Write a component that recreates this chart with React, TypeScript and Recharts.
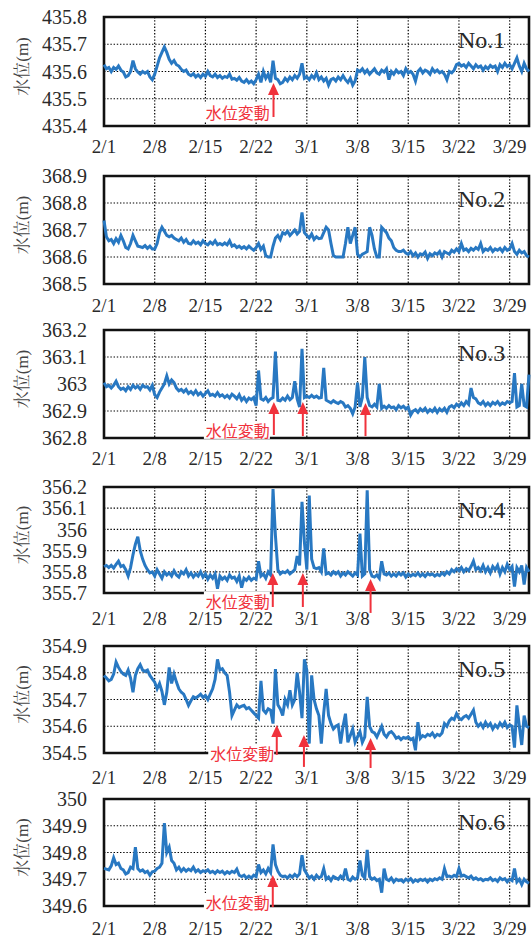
import React from 'react';
import {
  LineChart,
  Line,
  XAxis,
  YAxis,
  CartesianGrid,
  ReferenceArea,
  ReferenceLine,
  ReferenceDot,
} from 'recharts';

// ---------- axes ----------
const DAY_TICKS = [0, 7, 14, 21, 28, 35, 42, 49, 56];
const DAY_LABELS = ['2/1', '2/8', '2/15', '2/22', '3/1', '3/8', '3/15', '3/22', '3/29'];
const X_MAX = 58.67;
const SAMPLES_PER_DAY = 3;

const Y_TICKS_1 = [435.4, 435.5, 435.6, 435.7, 435.8];
const Y_TICKS_2 = [368.5, 368.6, 368.7, 368.8, 368.9];
const Y_TICKS_3 = [362.8, 362.9, 363.0, 363.1, 363.2];
const Y_TICKS_4 = [355.7, 355.8, 355.9, 356.0, 356.1, 356.2];
const Y_TICKS_5 = [354.5, 354.6, 354.7, 354.8, 354.9];
const Y_TICKS_6 = [349.6, 349.7, 349.8, 349.9, 350.0];

// ---------- water level series (3 samples per day, from 2/1) ----------
const NO1 = [
  435.625, 435.610, 435.615, 435.600, 435.615, 435.608, 435.620, 435.605, 435.598,
  435.580, 435.585, 435.600, 435.640, 435.610, 435.598, 435.590, 435.600, 435.594,
  435.600, 435.580, 435.570, 435.590, 435.620, 435.650, 435.670, 435.690, 435.670,
  435.645, 435.630, 435.640, 435.625, 435.620, 435.608, 435.600, 435.605, 435.590,
  435.585, 435.592, 435.580, 435.588, 435.578, 435.590, 435.582, 435.600, 435.585,
  435.580, 435.590, 435.578, 435.585, 435.575, 435.582, 435.578, 435.590, 435.572,
  435.575, 435.568, 435.578, 435.565, 435.560, 435.570, 435.558, 435.565, 435.555,
  435.570, 435.590, 435.560, 435.600, 435.575, 435.590, 435.560, 435.640, 435.575,
  435.570, 435.555, 435.560, 435.575, 435.565, 435.580, 435.570, 435.585, 435.575,
  435.590, 435.630, 435.575, 435.580, 435.570, 435.585, 435.575, 435.595, 435.570,
  435.580, 435.565, 435.575, 435.550, 435.570, 435.575, 435.565, 435.580, 435.570,
  435.585, 435.570, 435.560, 435.575, 435.550, 435.565, 435.605, 435.600, 435.610,
  435.595, 435.605, 435.590, 435.600, 435.610, 435.595, 435.590, 435.605, 435.598,
  435.610, 435.570, 435.600, 435.590, 435.605, 435.595, 435.600, 435.585, 435.610,
  435.595, 435.600, 435.590, 435.565, 435.600, 435.610, 435.595, 435.605, 435.600,
  435.590, 435.610, 435.598, 435.605, 435.595, 435.600, 435.590, 435.570, 435.600,
  435.595, 435.605, 435.625, 435.630, 435.620, 435.625, 435.615, 435.630, 435.620,
  435.610, 435.625, 435.615, 435.620, 435.605, 435.618, 435.610, 435.622, 435.615,
  435.620, 435.600, 435.625, 435.615, 435.630, 435.618, 435.625, 435.610, 435.630,
  435.650, 435.620, 435.600, 435.630, 435.610, 435.600,
];

const NO2 = [
  368.735, 368.675, 368.660, 368.665, 368.650, 368.668, 368.655, 368.680, 368.660,
  368.635, 368.630, 368.650, 368.680, 368.660, 368.640, 368.638, 368.635, 368.642,
  368.632, 368.640, 368.630, 368.630, 368.650, 368.690, 368.710, 368.695, 368.680,
  368.675, 368.680, 368.670, 368.665, 368.660, 368.670, 368.655, 368.665, 368.650,
  368.648, 368.660, 368.650, 368.655, 368.645, 368.660, 368.650, 368.645, 368.655,
  368.648, 368.660, 368.645, 368.650, 368.645, 368.652, 368.645, 368.660, 368.640,
  368.645, 368.635, 368.640, 368.632, 368.638, 368.630, 368.640, 368.632, 368.625,
  368.635, 368.650, 368.628, 368.640, 368.605, 368.600, 368.600, 368.640, 368.670,
  368.680, 368.665, 368.690, 368.685, 368.695, 368.680, 368.690, 368.700, 368.685,
  368.695, 368.765, 368.690, 368.680, 368.670, 368.685, 368.665, 368.675, 368.668,
  368.670, 368.690, 368.710, 368.700, 368.650, 368.605, 368.600, 368.600, 368.600,
  368.600, 368.650, 368.710, 368.650, 368.680, 368.710, 368.610, 368.600, 368.610,
  368.615, 368.620, 368.710, 368.680, 368.630, 368.600, 368.600, 368.710, 368.700,
  368.690, 368.670, 368.660, 368.635, 368.625, 368.620, 368.620, 368.625, 368.615,
  368.610, 368.620, 368.605, 368.615, 368.600, 368.612, 368.608, 368.618, 368.595,
  368.612, 368.605, 368.615, 368.610, 368.620, 368.600, 368.620, 368.615, 368.610,
  368.625, 368.618, 368.630, 368.620, 368.650, 368.625, 368.630, 368.620, 368.632,
  368.625, 368.635, 368.628, 368.650, 368.620, 368.630, 368.625, 368.635, 368.620,
  368.630, 368.625, 368.632, 368.620, 368.635, 368.625, 368.630, 368.650, 368.620,
  368.610, 368.625, 368.615, 368.620, 368.605, 368.600,
];

const NO3 = [
  363.005, 362.990, 362.995, 362.985, 362.995, 363.010, 362.990, 362.980, 362.985,
  362.975, 362.990, 362.980, 362.995, 362.985, 362.992, 362.980, 362.995, 362.988,
  362.990, 362.978, 362.995, 362.960, 362.950, 362.970, 362.985, 363.000, 363.030,
  363.000, 363.015, 363.005, 362.985, 362.975, 362.980, 362.970, 362.980, 362.965,
  362.972, 362.962, 362.975, 362.960, 362.968, 362.955, 362.965, 362.975, 362.958,
  362.962, 362.955, 362.968, 362.955, 362.960, 362.950, 362.958, 362.948, 362.962,
  362.955, 362.945, 362.960, 362.940, 362.950, 362.935, 362.948, 362.942, 362.950,
  362.920, 363.050, 362.945, 362.940, 362.950, 362.935, 362.945, 362.950, 363.120,
  362.940, 362.938, 362.948, 362.940, 362.955, 362.942, 362.950, 363.010, 362.945,
  362.915, 363.130, 362.950, 362.955, 362.950, 362.958, 362.950, 362.955, 362.948,
  362.950, 363.060, 362.940, 362.935, 362.930, 362.938, 362.932, 362.928, 362.935,
  362.930, 362.915, 362.920, 362.910, 362.890, 362.915, 363.005, 362.915, 362.950,
  363.100, 362.950, 362.920, 362.915, 362.925, 362.915, 363.000, 362.910, 362.918,
  362.910, 362.920, 362.912, 362.915, 362.905, 362.920, 362.912, 362.918, 362.908,
  362.915, 362.885, 362.900, 362.905, 362.895, 362.908, 362.900, 362.910, 362.895,
  362.905, 362.898, 362.910, 362.895, 362.908, 362.900, 362.910, 362.895, 362.915,
  362.920, 362.912, 362.925, 362.918, 362.930, 362.920, 362.935, 362.925, 362.985,
  362.950, 362.945, 362.930, 362.925, 362.935, 362.920, 362.930, 362.920, 362.932,
  362.925, 362.935, 362.922, 362.930, 362.925, 362.935, 362.930, 362.935, 363.040,
  362.915, 362.920, 363.000, 362.920, 362.915, 363.035,
];

const NO4 = [
  355.825, 355.830, 355.820, 355.830, 355.818, 355.835, 355.850, 355.825, 355.830,
  355.810, 355.780, 355.820, 355.880, 355.930, 355.965, 355.900, 355.860, 355.830,
  355.810, 355.795, 355.800, 355.780, 355.810, 355.790, 355.770, 355.800, 355.785,
  355.795, 355.780, 355.805, 355.785, 355.775, 355.800, 355.790, 355.810, 355.780,
  355.795, 355.775, 355.790, 355.780, 355.800, 355.775, 355.790, 355.765, 355.785,
  355.770, 355.790, 355.720, 355.780, 355.765, 355.775, 355.760, 355.785, 355.770,
  355.775, 355.755, 355.780, 355.725, 355.770, 355.760, 355.775, 355.760, 355.770,
  355.765, 355.850, 355.780, 355.790, 355.770, 355.800, 355.785, 356.190, 355.970,
  355.810, 355.790, 355.800, 355.795, 355.805, 355.790, 355.800, 355.810, 355.875,
  355.830, 356.130, 355.940, 355.810, 356.160, 355.860, 355.820, 355.815, 355.820,
  355.800, 355.910, 355.790, 355.795, 355.785, 355.800, 355.790, 355.800, 355.780,
  355.795, 355.785, 355.800, 355.790, 355.780, 355.795, 355.785, 355.980, 355.780,
  355.790, 356.185, 355.810, 355.780, 355.775, 355.785, 355.770, 355.850, 355.790,
  355.785, 355.795, 355.780, 355.790, 355.780, 355.795, 355.785, 355.795, 355.775,
  355.790, 355.780, 355.788, 355.782, 355.795, 355.780, 355.790, 355.778, 355.792,
  355.785, 355.790, 355.780, 355.788, 355.782, 355.795, 355.785, 355.800, 355.790,
  355.810, 355.800, 355.815, 355.805, 355.820, 355.800, 355.815, 355.805, 355.825,
  355.850, 355.810, 355.820, 355.805, 355.830, 355.800, 355.820, 355.795, 355.825,
  355.810, 355.830, 355.790, 355.820, 355.800, 355.835, 355.810, 355.825, 355.730,
  355.820, 355.800, 355.830, 355.740, 355.820, 355.800,
];

const NO5 = [
  354.790, 354.780, 354.770, 354.775, 354.795, 354.840, 354.820, 354.805, 354.795,
  354.790, 354.810, 354.780, 354.727, 354.790, 354.815, 354.830, 354.810, 354.805,
  354.810, 354.790, 354.777, 354.765, 354.740, 354.760, 354.730, 354.680, 354.727,
  354.820, 354.760, 354.795, 354.765, 354.740, 354.727, 354.720, 354.700, 354.678,
  354.695, 354.710, 354.705, 354.712, 354.720, 354.708, 354.715, 354.700, 354.720,
  354.740, 354.775, 354.850, 354.810, 354.815, 354.800, 354.790, 354.727, 354.640,
  354.660, 354.680, 354.670, 354.675, 354.678, 354.665, 354.670, 354.660, 354.650,
  354.640, 354.630, 354.770, 354.660, 354.650, 354.665, 354.660, 354.610, 354.814,
  354.680, 354.665, 354.640, 354.700, 354.680, 354.735, 354.680, 354.700, 354.800,
  354.727, 354.630, 354.850, 354.810, 354.535, 354.790, 354.700, 354.665, 354.640,
  354.535, 354.650, 354.740, 354.640, 354.610, 354.590, 354.600, 354.605, 354.535,
  354.600, 354.647, 354.540, 354.565, 354.590, 354.540, 354.560, 354.580, 354.540,
  354.560, 354.710, 354.600, 354.580, 354.575, 354.560, 354.580, 354.600, 354.570,
  354.560, 354.575, 354.580, 354.570, 354.555, 354.560, 354.550, 354.558, 354.555,
  354.560, 354.550, 354.555, 354.510, 354.615, 354.555, 354.565, 354.560, 354.570,
  354.565, 354.575, 354.560, 354.570, 354.565, 354.575, 354.610, 354.600, 354.620,
  354.630, 354.625, 354.647, 354.630, 354.625, 354.635, 354.640, 354.630, 354.645,
  354.660, 354.615, 354.600, 354.610, 354.595, 354.615, 354.600, 354.610, 354.590,
  354.605, 354.595, 354.612, 354.600, 354.615, 354.595, 354.605, 354.600, 354.520,
  354.678, 354.600, 354.530, 354.640, 354.600, 354.595,
];

const NO6 = [
  349.740, 349.738, 349.735, 349.750, 349.780, 349.755, 349.760, 349.740, 349.735,
  349.720, 349.725, 349.745, 349.740, 349.820, 349.740, 349.730, 349.735, 349.725,
  349.730, 349.715, 349.728, 349.730, 349.740, 349.745, 349.760, 349.910, 349.800,
  349.820, 349.770, 349.760, 349.735, 349.745, 349.730, 349.740, 349.730, 349.738,
  349.732, 349.745, 349.728, 349.735, 349.725, 349.732, 349.728, 349.735, 349.725,
  349.730, 349.722, 349.732, 349.725, 349.730, 349.720, 349.728, 349.722, 349.730,
  349.725, 349.738, 349.715, 349.710, 349.715, 349.705, 349.712, 349.705, 349.715,
  349.710, 349.755, 349.725, 349.735, 349.720, 349.740, 349.725, 349.830, 349.755,
  349.730, 349.715, 349.710, 349.712, 349.705, 349.715, 349.708, 349.718, 349.710,
  349.720, 349.790, 349.735, 349.720, 349.705, 349.712, 349.700, 349.715, 349.705,
  349.710, 349.740, 349.700, 349.708, 349.695, 349.710, 349.705, 349.700, 349.712,
  349.702, 349.740, 349.700, 349.695, 349.708, 349.700, 349.705, 349.770, 349.715,
  349.705, 349.810, 349.710, 349.700, 349.705, 349.695, 349.700, 349.650, 349.740,
  349.700, 349.695, 349.705, 349.690, 349.700, 349.695, 349.698, 349.690, 349.700,
  349.695, 349.702, 349.690, 349.698, 349.692, 349.700, 349.695, 349.700, 349.690,
  349.700, 349.695, 349.702, 349.698, 349.705, 349.700, 349.740, 349.710, 349.712,
  349.708, 349.715, 349.710, 349.740, 349.712, 349.715, 349.710, 349.705, 349.712,
  349.700, 349.705, 349.698, 349.702, 349.695, 349.700, 349.698, 349.705, 349.695,
  349.700, 349.692, 349.705, 349.698, 349.702, 349.690, 349.700, 349.695, 349.740,
  349.690, 349.700, 349.680, 349.700, 349.690, 349.685,
];

// ---------- annotations (arrow base/tip in data units; label anchor = right end) ----------
const ARROWS_1 = [{ d: 23.4, tip: 435.558, base: 435.433 }];
const ARROWS_3 = [
  { d: 23.45, tip: 362.933, base: 362.811 },
  { d: 27.45, tip: 362.933, base: 362.807 },
  { d: 36.1, tip: 362.930, base: 362.807 },
];
const ARROWS_4 = [
  { d: 23.3, tip: 355.794, base: 355.634 },
  { d: 27.45, tip: 355.794, base: 355.634 },
  { d: 36.8, tip: 355.766, base: 355.606 },
];
const ARROWS_5 = [
  { d: 23.85, tip: 354.605, base: 354.493 },
  { d: 27.6, tip: 354.567, base: 354.448 },
  { d: 36.8, tip: 354.556, base: 354.444 },
];
const ARROWS_6 = [{ d: 23.3, tip: 349.716, base: 349.596 }];

const NOTE_TEXT = '水位変動';
const NOTE_1 = { d: 22.9, v: 435.451 };
const NOTE_3 = { d: 22.9, v: 362.83 };
const NOTE_4 = { d: 22.9, v: 355.664 };
const NOTE_5 = { d: 23.5, v: 354.5 };
const NOTE_6 = { d: 22.9, v: 349.615 };

// ---------- layout / styles ----------
const PANELS = [
  { name: 'No.1', values: NO1, yTicks: Y_TICKS_1, top: 17, h: 109, xGap: 14, arrows: ARROWS_1, note: NOTE_1 },
  { name: 'No.2', values: NO2, yTicks: Y_TICKS_2, top: 176, h: 108, xGap: 14.5, arrows: [], note: null },
  { name: 'No.3', values: NO3, yTicks: Y_TICKS_3, top: 330, h: 108, xGap: 13.5, arrows: ARROWS_3, note: NOTE_3 },
  { name: 'No.4', values: NO4, yTicks: Y_TICKS_4, top: 487, h: 106, xGap: 18.5, arrows: ARROWS_4, note: NOTE_4 },
  { name: 'No.5', values: NO5, yTicks: Y_TICKS_5, top: 646, h: 107, xGap: 17.5, arrows: ARROWS_5, note: NOTE_5 },
  { name: 'No.6', values: NO6, yTicks: Y_TICKS_6, top: 799, h: 107, xGap: 15.5, arrows: ARROWS_6, note: NOTE_6 },
];

const W = 531;
const MT = 14;
const XH = 36;
const SERIF = '"Liberation Serif", "Times New Roman", "Noto Serif CJK JP", serif';
const TEXT_COLOR = '#2a2a2a';
const LINE_COLOR = '#2878c2';
const RED = '#f0323c';
const xTickStyle = { fill: TEXT_COLOR, fontSize: 19, fontFamily: SERIF };
const yTickStyle = { fill: TEXT_COLOR, fontSize: 20, fontFamily: SERIF };

const Arrow = (p: any) => {
  const { x1, y1, x2, y2 } = p;
  const headH = 12;
  const headW = 5.5;
  return (
    <g>
      <line x1={x1} y1={y1} x2={x2} y2={y2 + headH - 1} stroke={RED} strokeWidth={2} />
      <polygon
        points={`${x2},${y2} ${x2 - headW},${y2 + headH} ${x2 + headW},${y2 + headH}`}
        fill={RED}
      />
    </g>
  );
};

const NoteLabel = (p: any) => {
  const { cx, cy } = p;
  return (
    <g>
      <rect x={cx - 66} y={cy - 9} width={66} height={18} fill="#fff" />
      <text
        x={cx}
        y={cy}
        textAnchor="end"
        dominantBaseline="central"
        fontSize={16}
        fontFamily='"Noto Sans CJK JP", "Noto Sans", sans-serif'
        fill={RED}
      >
        {NOTE_TEXT}
      </text>
    </g>
  );
};

function Panel({ cfg }: { cfg: any }) {
  const data = cfg.values.map((v: number, i: number) => ({ d: i / SAMPLES_PER_DAY, v }));
  const ymin = cfg.yTicks[0];
  const ymax = cfg.yTicks[cfg.yTicks.length - 1];
  const ymid = (ymin + ymax) / 2;

  const NameLabel = (p: any) => (
    <text x={p.cx - 71} y={p.cy + 31} fontSize={24} fontFamily={SERIF} fill={TEXT_COLOR}>
      {cfg.name}
    </text>
  );
  const YTitle = (p: any) => {
    const x = p.cx - 82;
    const y = p.cy - 5;
    return (
      <text
        x={x}
        y={y}
        transform={`rotate(-90 ${x} ${y})`}
        textAnchor="middle"
        dominantBaseline="central"
        fontSize={17}
        fontFamily={SERIF}
        fill="#444"
      >
        水位(m)
      </text>
    );
  };

  return (
    <div style={{ position: 'absolute', left: 0, top: cfg.top - MT }}>
      <LineChart
        width={W}
        height={MT + cfg.h + XH}
        data={data}
        margin={{ top: MT, right: 2, left: 0, bottom: 0 }}
      >
        <CartesianGrid stroke="#000" strokeDasharray="1.4 1.8" strokeWidth={1.2} />
        <XAxis
          dataKey="d"
          type="number"
          domain={[0, X_MAX]}
          ticks={DAY_TICKS}
          interval={0}
          tickFormatter={(t: number) => DAY_LABELS[DAY_TICKS.indexOf(t)]}
          height={XH}
          axisLine={false}
          tickLine={false}
          tickSize={0}
          tickMargin={cfg.xGap}
          tick={xTickStyle}
        />
        <YAxis
          type="number"
          domain={[ymin, ymax]}
          ticks={cfg.yTicks}
          interval={0}
          width={104}
          axisLine={false}
          tickLine={false}
          tickSize={0}
          tickMargin={17}
          tick={yTickStyle}
          tickFormatter={(v: number) => String(Number(v.toFixed(1)))}
        />
        <Line
          dataKey="v"
          type="linear"
          stroke={LINE_COLOR}
          strokeWidth={3}
          dot={false}
          activeDot={false}
          isAnimationActive={false}
        />
        <ReferenceArea
          x1={0}
          x2={X_MAX}
          y1={ymin}
          y2={ymax}
          fill="none"
          stroke="#111"
          strokeWidth={2.6}
          ifOverflow="visible"
        />
        <ReferenceDot x={X_MAX} y={ymax} r={0} ifOverflow="visible" shape={NameLabel} />
        <ReferenceDot x={0} y={ymid} r={0} ifOverflow="visible" shape={YTitle} />
        {cfg.note && (
          <ReferenceDot x={cfg.note.d} y={cfg.note.v} r={0} ifOverflow="visible" shape={NoteLabel} />
        )}
        {cfg.arrows.map((a: any, i: number) => (
          <ReferenceLine
            key={i}
            ifOverflow="visible"
            segment={[
              { x: a.d, y: a.base },
              { x: a.d, y: a.tip },
            ]}
            shape={Arrow}
          />
        ))}
      </LineChart>
    </div>
  );
}

export default function App() {
  return (
    <div style={{ position: 'absolute', left: 0, top: 0, width: W, height: 940, background: '#fff' }}>
      {PANELS.map((p) => (
        <Panel key={p.name} cfg={p} />
      ))}
    </div>
  );
}
